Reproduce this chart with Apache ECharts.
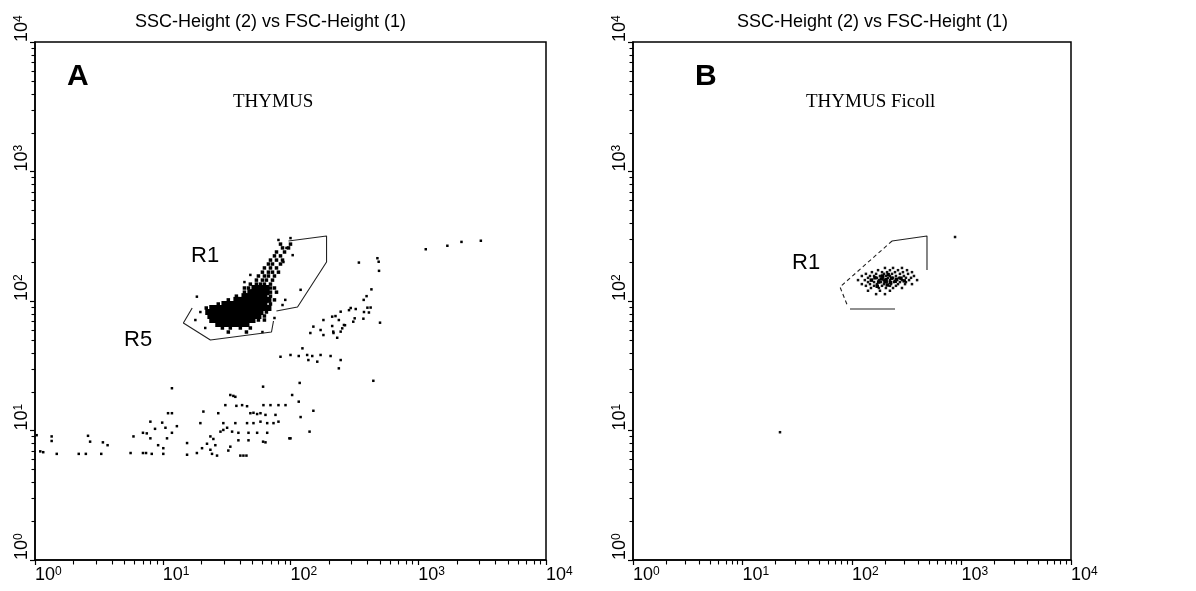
<!DOCTYPE html>
<html>
<head>
<meta charset="utf-8">
<script src="https://cdn.jsdelivr.net/npm/echarts@6/dist/echarts.min.js"></script>
<style>
html, body { margin: 0; padding: 0; background: #fff; }
#chart { width: 1196px; height: 591px; }
</style>
</head>
<body>
<div id="chart"></div>
<script>
// Decade range shared by both log-log dot plots
const axisMin = 1;
const axisMax = 10000;
// Intermediate log ticks (2..9 of each decade)
const minorTickValues = [2,3,4,5,6,7,8,9, 20,30,40,50,60,70,80,90, 200,300,400,500,600,700,800,900, 2000,3000,4000,5000,6000,7000,8000,9000];

// Panel A (THYMUS): dense lymphocyte cluster, [FSC, SSC]
const thymusCore = [
  [52.2,126],[56.1,126],[60.3,126],[64.8,126],
  [48.5,117],[52.2,117],[56.1,117],[60.3,117],[64.8,117],
  [43.6,109],[46.9,109],[50.4,109],[54.1,109],[58.2,109],[62.5,109],
  [37.7,102],[40.5,102],[43.6,102],[46.9,102],[50.4,102],[54.1,102],[58.2,102],[62.5,102],[67.2,102],
  [30.4,94.8],[32.6,94.8],[35.1,94.8],[37.7,94.8],[40.5,94.8],[43.6,94.8],[46.9,94.8],[50.4,94.8],[54.1,94.8],[58.2,94.8],[62.5,94.8],
  [24.4,88.3],[26.3,88.3],[28.3,88.3],[30.4,88.3],[32.6,88.3],[35.1,88.3],[37.7,88.3],[40.5,88.3],[43.6,88.3],[46.9,88.3],[50.4,88.3],[54.1,88.3],[58.2,88.3],[62.5,88.3],[67.2,88.3],
  [22.7,82.2],[24.4,82.2],[26.3,82.2],[28.3,82.2],[30.4,82.2],[32.6,82.2],[35.1,82.2],[37.7,82.2],[40.5,82.2],[43.6,82.2],[46.9,82.2],[50.4,82.2],[54.1,82.2],[58.2,82.2],
  [23.6,76.6],[25.3,76.6],[27.2,76.6],[29.3,76.6],[31.5,76.6],[33.8,76.6],[36.4,76.6],[39.1,76.6],[42.0,76.6],[45.2,76.6],[48.5,76.6],[52.2,76.6],[56.1,76.6],
  [24.4,71.3],[26.3,71.3],[28.3,71.3],[30.4,71.3],[32.6,71.3],[35.1,71.3],[37.7,71.3],[40.5,71.3],[43.6,71.3],[46.9,71.3],[50.4,71.3],
  [27.2,66.4],[29.3,66.4],[31.5,66.4],[33.8,66.4],[36.4,66.4],[39.1,66.4],[42.0,66.4],[45.2,66.4]
];

// Panel A: diagonal tail and ragged edge of the cluster
const thymusTail = [
  [48.5,135],[54.1,135],[58.2,135],[62.5,135],[69.7,135],
  [54.1,145],[60.3,145],[64.8,145],[72.3,145],
  [56.1,156],[62.5,156],[67.2,156],[74.9,156],
  [60.3,167],[67.2,167],[72.3,167],[80.5,167],
  [62.5,180],[69.7,180],[77.7,180],
  [67.2,193],[72.3,193],[83.5,193],
  [69.7,207],[77.7,207],[86.6,207],
  [74.9,223],[83.5,223],
  [77.7,239],[89.8,239],
  [86.6,257],[96.5,257],
  [83.5,275],[100,275],
  [43.6,126],[46.9,126],[69.7,126],[74.9,126],
  [43.6,117],[69.7,117],[77.7,117],
  [37.7,109],[69.7,109],
  [32.6,102],[74.9,102],
  [27.2,94.8],[69.7,94.8],
  [21.9,88.3],[64.8,82.2],[62.5,76.6],[56.1,71.3],[62.5,71.3],
  [29.3,61.9],[33.8,61.9],[40.5,61.9],[48.5,61.9],
  [32.6,57.6],[45.2,57.6]
];

// Panel A: scattered events (debris, granular cells)
const thymusScatter = [
  [18.5,108],[100,306],[88,200],[104,226],[93,257],[80.5,296],[120,122],[91,102],[48.5,159],[43.6,140],
  [19.7,82.2],[18.0,71.3],[21.5,61.9],[60.3,57.6],[74.9,73.9],[86.6,93.1],
  [11.8,21.2],[33.8,18.8],[37,18.2],[61,21.8],[118,23.3],[103,18.8],[116,16.7],
  [30.9,15.7],[37.7,15.5],[41.8,15.7],[45.7,15.4],[61.4,15.7],[69.7,15.7],[80.5,15.7],[91.4,15.7],
  [151,14.2],[20.8,14.0],[11.8,13.6],[11.0,13.6],[48.5,13.6],[51.3,13.7],[54.8,13.4],[58.2,13.6],[63.7,13.2],[76.3,13.2],[27.2,13.6],
  [120,12.7],[8.0,11.7],[9.9,11.5],[19.7,11.4],[29.8,11.4],[37,11.4],[45.7,11.4],[51.3,11.4],[58.2,11.7],[65.7,11.4],[73.6,11.4],[80.5,11.7],
  [12.9,10.8],[8.7,10.3],[10.5,10.5],[31.9,10.5],[29.8,10.1],[28.3,9.8],[7.0,9.6],[7.5,9.5],[11.8,9.6],[34.9,9.8],[39.1,9.6],[46.9,9.6],[54.8,9.6],[65.7,9.6],
  [5.9,9.0],[1.35,9.0],[2.6,9.1],[23.6,9.0],[24.9,8.6],[8.0,8.7],[10.8,8.7],[39.1,8.4],[46.9,8.4],[63.7,8.1],[98,8.7],[141,9.8],
  [1.35,8.3],[2.7,8.2],[3.4,8.1],[3.7,7.7],[9.2,7.7],[15.5,8.0],[22.2,7.9],[25.8,7.7],[10.1,7.3],[20.3,7.3],[23.6,7.1],[33.8,7.5],[32.6,7.0],
  [1.1,6.9],[1.16,6.8],[1.48,6.6],[2.2,6.6],[2.5,6.6],[3.3,6.6],[5.6,6.7],[7.0,6.7],[7.4,6.7],[8.2,6.6],[10.1,6.6],[15.5,6.5],[18.5,6.7],[24.3,6.6],[26.6,6.4],
  [1.03,9.2],[35.7,18.5],[100,8.7],[61,8.2],[40.5,6.4],[42.8,6.4],[45.2,6.4],
  [3090,292],[2180,286],[1690,267],[1145,251],[479,214],[343,198],[493,171],[430,123],[394,109],[287,85],[400,88.8],[424,89],
  [376,82.2],[411,81.5],[239,71.3],[318,73.5],[372,73],[310,69.2],[502,68],[262,65.3],[267,65],[212,64.1],[254,61.5],[216,58],
  [247,58],[232,52],[239,30.2],[445,24.2],
  [490,201],[374,102],[296,88.3],[324,86.7],[247,82.7],[212,75.7],[225,76.5],[181,71.3],[151,63.4],[172,59.7],[143,56.6],
  [181,54.6],[217,56.6],[124,43.1],[83.5,37.1],[100,38.3],[116,37.6],[135,38.3],[148,37.6],[172,38.3],[206,37.6],[138,35],[162,34],[247,35]
];

// Panel A gates
const gateR1A = [[96.4,290.5],[191.5,317.7],[191.5,200],[113.5,89.9],[77.6,83.7]];
const gateR5A = [[17.0,88.3],[14.5,67.6],[23.6,50.0],[71.0,57.6],[73.6,70.1]];

// Panel B (THYMUS Ficoll): cluster after density separation
const ficollEvents = [
  [200,180],[237,180],[286,180],
  [173,173],[222,173],[263,173],[318,173],
  [152,167],[188,167],[209,167],[247,167],[292,167],[353,167],
  [134,162],[166,162],[196,162],[232,162],[274,162],[325,162],
  [123,156],[146,156],[159,156],[180,156],[204,156],[222,156],[252,156],[298,156],[368,156],
  [140,151],[169,151],[192,151],[213,151],[237,151],[269,151],[311,151],[346,151],
  [113.5,145],[131,145],[152,145],[176,145],[196,145],[222,145],[258,145],[286,145],[332,145],[393,145],
  [140,140],[159,140],[184,140],[209,140],[242,140],[274,140],[311,140],
  [123,135],[146,135],[169,135],[196,135],[227,135],[263,135],[305,135],[353,135],
  [134,131],[159,131],[188,131],[222,131],[252,131],
  [149,126],[176,126],[204,126],[237,126],[286,126],
  [140,120],[180,120],[222,120],
  [166,113],[200,113],
  [873,312],[22,9.7]
];
const ficollDense = [
  [162,151],[185,148],[205,146],[230,150],[255,147],[175,140],[200,141],[225,139],[248,142],[190,156],[214,160],
  [150,145],[280,150],[300,143],[170,130],[210,133]
];

// Panel B gate: solid corner and dotted lower-left edge
const gateR1B = [[484,173.5],[484,317.7],[232,290.5]];
const gateR1Bdash = [[232,290.5],[77.7,128.3],[91.9,89.9]];
const gateR1Bbase = [[95.9,86.7],[247,86.7]];

const SANS = '"Liberation Sans", Arial, sans-serif';
const SERIF = '"Liberation Serif", "Times New Roman", serif';

function decadeLabel(v) {
  const e = Math.round(Math.log10(v));
  return '{b|10}{s|' + e + '}';
}
const labelRich = {
  b: { fontSize: 18, fontFamily: SANS, color: '#000', verticalAlign: 'bottom' },
  s: { fontSize: 12, fontFamily: SANS, color: '#000', verticalAlign: 'top' }
};

function logAxis(gridIndex, isY) {
  return {
    type: 'log', logBase: 10, min: axisMin, max: axisMax, gridIndex: gridIndex,
    axisLine: { show: true, onZero: false, lineStyle: { color: '#000', width: 1.5 } },
    axisTick: { show: true, inside: false, length: 5, lineStyle: { color: '#000', width: 1.2 } },
    minorTick: { show: false },
    splitLine: { show: false },
    minorSplitLine: { show: false },
    axisLabel: isY
      ? { rotate: 90, align: 'left', verticalAlign: 'bottom', margin: 4, showMinLabel: true, showMaxLabel: true, formatter: decadeLabel, rich: labelRich }
      : { align: 'left', verticalAlign: 'top', margin: 6, showMinLabel: true, showMaxLabel: true, formatter: decadeLabel, rich: labelRich }
  };
}

function dots(data, xi, size, color) {
  return {
    type: 'scatter', xAxisIndex: xi, yAxisIndex: xi, data: data,
    symbol: 'rect', symbolSize: size, itemStyle: { color: color, opacity: 1 }, silent: true
  };
}
function gate(data, xi, dashed) {
  return {
    type: 'line', xAxisIndex: xi, yAxisIndex: xi, data: data, symbol: 'none', silent: true, z: 3,
    lineStyle: { color: '#222', width: 1.1, type: dashed ? [4, 3] : 'solid' }
  };
}

// Intermediate log ticks, placed through each axis' own log scale
function minorTicks(xi, isY) {
  const data = minorTickValues.map(function (v) { return isY ? [axisMin, v] : [v, axisMin]; });
  return {
    type: 'custom', xAxisIndex: xi, yAxisIndex: xi, data: data, silent: true, clip: false, z: 4,
    renderItem: function (params, api) {
      const p = api.coord([api.value(0), api.value(1)]);
      const x = Math.round(p[0]) + 0.5, y = Math.round(p[1]) + 0.5;
      return {
        type: 'line',
        shape: isY ? { x1: x, y1: y, x2: x - 4, y2: y } : { x1: x, y1: y, x2: x, y2: y + 4 },
        style: { stroke: '#000', lineWidth: 1.1 }
      };
    }
  };
}

const chart = echarts.init(document.getElementById('chart'));
chart.setOption({
  animation: false,
  backgroundColor: '#fff',
  title: [
    { text: 'SSC-Height (2) vs FSC-Height (1)', left: 135, top: 13, padding: 0,
      textStyle: { fontSize: 18, fontWeight: 'normal', fontFamily: SANS, color: '#000' } },
    { text: 'SSC-Height (2) vs FSC-Height (1)', left: 737, top: 13, padding: 0,
      textStyle: { fontSize: 18, fontWeight: 'normal', fontFamily: SANS, color: '#000' } }
  ],
  grid: [
    { left: 35, top: 42, width: 511, height: 518, show: true, borderColor: '#000', borderWidth: 1.5, backgroundColor: '#fff' },
    { left: 633, top: 42, width: 438, height: 518, show: true, borderColor: '#000', borderWidth: 1.5, backgroundColor: '#fff' }
  ],
  xAxis: [logAxis(0, false), logAxis(1, false)],
  yAxis: [logAxis(0, true), logAxis(1, true)],
  graphic: [
    { type: 'text', left: 67, top: 62, style: { text: 'A', font: 'bold 30px ' + SANS, fill: '#000' } },
    { type: 'text', left: 695, top: 62, style: { text: 'B', font: 'bold 30px ' + SANS, fill: '#000' } },
    { type: 'text', left: 233, top: 93, style: { text: 'THYMUS', font: '19px ' + SERIF, fill: '#000' } },
    { type: 'text', left: 806, top: 93, style: { text: 'THYMUS Ficoll', font: '19px ' + SERIF, fill: '#000' } },
    { type: 'text', left: 191, top: 245, style: { text: 'R1', font: '22px ' + SANS, fill: '#000' } },
    { type: 'text', left: 124, top: 329, style: { text: 'R5', font: '22px ' + SANS, fill: '#000' } },
    { type: 'text', left: 792, top: 252, style: { text: 'R1', font: '22px ' + SANS, fill: '#000' } }
  ],
  series: [
    minorTicks(0, false), minorTicks(0, true), minorTicks(1, false), minorTicks(1, true),
    dots(thymusScatter, 0, 2.5, '#000'),
    dots(thymusTail, 0, 3.5, '#000'),
    dots(thymusCore, 0, 6, '#000'),
    gate(gateR1A, 0, false),
    gate(gateR5A, 0, false),
    dots(ficollEvents, 1, 2.5, '#111'),
    dots(ficollDense, 1, 3.5, '#000'),
    gate(gateR1B, 1, false),
    gate(gateR1Bdash, 1, true),
    gate(gateR1Bbase, 1, false)
  ]
});
</script>
</body>
</html>
